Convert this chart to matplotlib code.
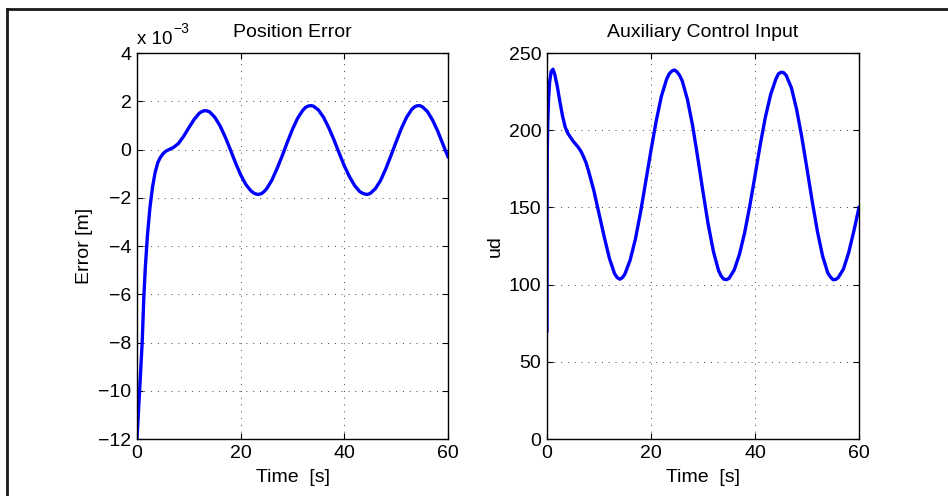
"""Redraws the position error and auxiliary control input plots."""

import matplotlib

matplotlib.use("Agg")

import matplotlib.pyplot as plt
from matplotlib.axes import Axes
from matplotlib.lines import Line2D


FIG_WIDTH_PX = 948
FIG_HEIGHT_PX = 496
DPI = 100
FONT_SIZE = 14
LINE_COLOR = "#0000ff"
LINE_WIDTH = 2.4
LEFT_AXES_RECT = (137 / 948, 57 / 496, 311 / 948, 386 / 496)
RIGHT_AXES_RECT = (547 / 948, 57 / 496, 312 / 948, 386 / 496)

# position error, in units of 1e-3 m
ERROR_TIME = [0, 0.25, 0.5, 0.75, 1.0, 1.3, 1.6, 2.0, 2.5, 3.0, 3.5, 4.0, 4.5, 5.0, 5.5, 6.0,
              7, 8, 9, 10, 11, 12, 12.5, 13, 13.5, 14, 15, 16, 17, 18, 19, 20, 21, 22, 22.5, 23, 23.5, 24, 24.5, 25,
              26, 27, 28, 29, 30, 31, 32, 32.5, 33, 33.5, 34, 35, 36, 37, 38, 39, 40, 41, 42, 43, 43.5, 44, 44.5, 45,
              46, 47, 48, 49, 50, 51, 52, 53, 53.5, 54, 54.5, 55, 56, 57, 58, 59, 60]
ERROR_VALUES = [-12.0, -11.0, -10.0, -9.0, -8.0, -6.2, -4.9, -3.6, -2.4, -1.55, -0.95, -0.55, -0.33, -0.18, -0.08, -0.02,
                0.08, 0.25, 0.55, 0.9, 1.24, 1.5, 1.57, 1.61, 1.6, 1.56, 1.34, 0.99, 0.53, 0.0, -0.55, -1.05,
                -1.45, -1.72, -1.8, -1.85, -1.86, -1.83, -1.75, -1.63,
                -1.28, -0.8, -0.27, 0.3, 0.84, 1.3, 1.63, 1.74, 1.8, 1.82, 1.8, 1.64, 1.33, 0.9, 0.4, -0.15, -0.68,
                -1.13, -1.5, -1.75, -1.81, -1.85, -1.86, -1.82,
                -1.62, -1.28, -0.8, -0.25, 0.32, 0.87, 1.33, 1.66, 1.76, 1.81, 1.82, 1.78, 1.58, 1.23, 0.77, 0.23, -0.3]

INPUT_TIME = [0, 0.02, 0.05, 0.15, 0.3, 0.5, 0.8, 1.15, 1.5, 2.0, 2.5, 3.0, 3.5, 4.0, 4.5, 5.0, 5.5, 6.0, 6.5, 7.0, 7.5,
              8, 9, 10, 11, 12, 13, 13.5, 14, 14.5, 15, 16, 17, 18, 19, 20, 21, 22, 23, 23.5, 24, 24.5, 25, 25.5, 26,
              27, 28, 29, 30, 31, 32, 33, 33.5, 34, 34.5, 35, 36, 37, 38, 39, 40, 41, 42, 43, 44, 44.5, 45, 45.5, 46,
              47, 48, 49, 50, 51, 52, 53, 54, 54.5, 55, 55.5, 56, 57, 58, 59, 60]
INPUT_VALUES = [70, 150, 185, 205, 220, 231, 238, 239.5, 236, 228, 218, 209, 202, 198, 195.5, 193, 191, 189, 186.5, 183, 179,
                173.5, 161, 146, 131, 117, 107, 104.5, 103.5, 104.5, 107, 116, 129.5, 147, 167, 187, 206, 222, 233, 236.5,
                238.3, 239, 237.8, 235.5, 232,
                220, 203, 182, 160, 139, 121.5, 109, 105.5, 103.5, 103.2, 104, 109.5, 119.5, 133.5, 151, 170.5, 190.5,
                208.5, 223, 233, 236.5, 237.5, 237.3, 235.5,
                227.5, 213.5, 195.5, 175, 154, 134.5, 118.5, 107.5, 105, 103.2, 103.3, 104.5, 110, 120.5, 134.5, 150]

X_TICKS = [0, 20, 40, 60]
ERROR_TICKS = [-12, -10, -8, -6, -4, -2, 0, 2, 4]
INPUT_TICKS = [0, 50, 100, 150, 200, 250]


def main():
    """Builds and saves the figure."""
    plt.rcParams["font.family"] = ["Liberation Sans", "DejaVu Sans"]
    plt.rcParams["font.size"] = FONT_SIZE
    figure = plt.figure(figsize=(FIG_WIDTH_PX / DPI, FIG_HEIGHT_PX / DPI), dpi=DPI)
    draw_frame(figure)

    left_axes = figure.add_axes(LEFT_AXES_RECT)
    draw_panel(left_axes, ERROR_TIME, ERROR_VALUES, "Position Error", "Error [m]", ERROR_TICKS)
    left_axes.set_yticklabels([f"{tick}".replace("-", "\u2212") for tick in ERROR_TICKS])
    left_axes.text(0, 1.012, "x 10", transform=left_axes.transAxes, ha="left", va="bottom", fontsize=13.5)
    left_axes.text(0.117, 1.044, "\u22123", transform=left_axes.transAxes, ha="left", va="bottom", fontsize=10)

    right_axes = figure.add_axes(RIGHT_AXES_RECT)
    draw_panel(right_axes, INPUT_TIME, INPUT_VALUES, "Auxiliary Control Input", "ud", INPUT_TICKS)

    figure.savefig("out.png", dpi=DPI)


def draw_frame(figure):
    """Draws the partial black border around the figure.
    :param figure: Matplotlib figure.
    """
    top = 1 - 9 / FIG_HEIGHT_PX
    left = 7 / FIG_WIDTH_PX
    figure.add_artist(Line2D([left, 1], [top, top], color="#1a1a1a", linewidth=2, transform=figure.transFigure))
    figure.add_artist(Line2D([left, left], [0, top], color="#1a1a1a", linewidth=2, transform=figure.transFigure))


def draw_panel(axes: Axes, time, values, title: str, y_label: str, y_ticks: list):
    """Draws one MATLAB-style subplot.
    :param axes: Matplotlib axes.
    :param time: Time samples.
    :param values: Signal samples.
    :param title: Subplot title.
    :param y_label: Y axis label.
    :param y_ticks: Y tick positions.
    """
    axes.plot(time, values, color=LINE_COLOR, linewidth=LINE_WIDTH, solid_joinstyle="round")
    axes.set_xlim(X_TICKS[0], X_TICKS[-1])
    axes.set_ylim(y_ticks[0], y_ticks[-1])
    axes.set_xticks(X_TICKS)
    axes.set_yticks(y_ticks)
    axes.grid(True, color="0.25", linestyle=(0, (1, 6)), linewidth=0.7)
    axes.tick_params(direction="in", length=4, width=0.8, top=True, right=True, pad=4, labelsize=FONT_SIZE)
    for spine in axes.spines.values():
        spine.set_linewidth(1.0)
    axes.set_title(title, fontsize=FONT_SIZE, pad=11.5)
    axes.set_xlabel("Time  [s]", fontsize=FONT_SIZE, labelpad=5)
    axes.set_ylabel(y_label, fontsize=FONT_SIZE, labelpad=4)


if __name__ == "__main__":
    main()
